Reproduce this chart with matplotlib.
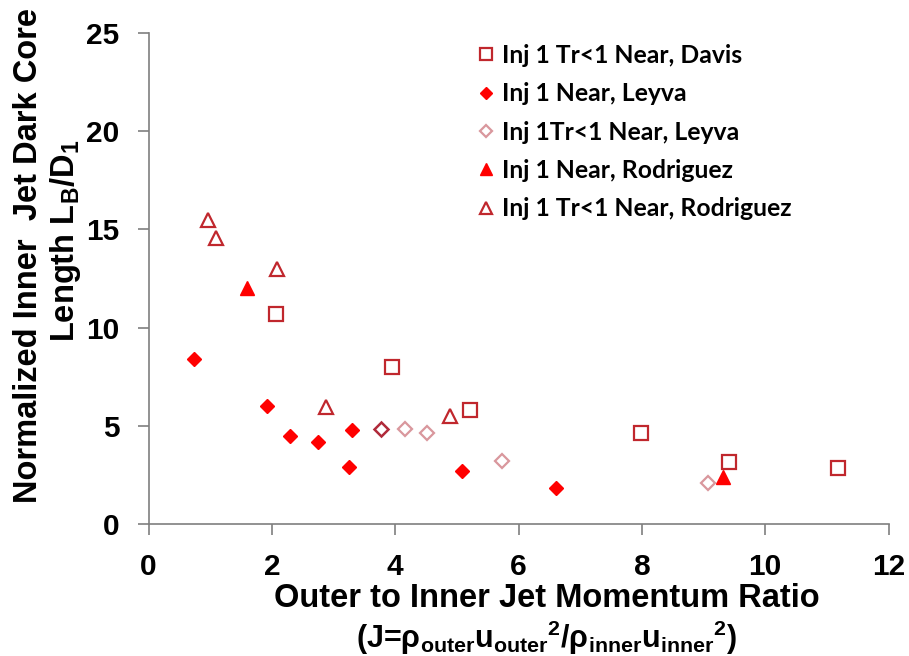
import matplotlib
matplotlib.use("Agg")
import matplotlib.pyplot as plt

# Inj 1 Tr<1 Near, Davis (open squares)
davis_tr_x = [2.06, 3.94, 5.22, 7.98, 9.42, 11.18]
davis_tr_y = [10.7, 7.99, 5.82, 4.63, 3.17, 2.88]

# Inj 1 Near, Leyva (filled diamonds)
leyva_x = [0.73, 1.92, 2.30, 2.75, 3.30, 3.25, 5.08, 6.60]
leyva_y = [8.40, 6.00, 4.48, 4.17, 4.80, 2.93, 2.71, 1.85]

# Inj 1Tr<1 Near, Leyva (open diamonds)
leyva_tr_x = [4.16, 4.51, 5.73, 9.07]
leyva_tr_y = [4.87, 4.66, 3.22, 2.09]
# one darker open diamond (overlapping points in the original)
leyva_tr_dark_x = [3.77]
leyva_tr_dark_y = [4.83]

# Inj 1 Near, Rodriguez (filled triangles)
rodriguez_x = [1.59, 9.32]
rodriguez_y = [12.0, 2.39]

# Inj 1 Tr<1 Near, Rodriguez (open triangles)
rodriguez_tr_x = [0.97, 1.09, 2.08, 2.88, 4.89]
rodriguez_tr_y = [15.49, 14.55, 12.98, 5.97, 5.51]

x_ticks = [0, 2, 4, 6, 8, 10, 12]
y_ticks = [0, 5, 10, 15, 20, 25]

RED = "#ff0000"
DARK_RED = "#c0272d"
PINK = "#d9979d"
GREY = "#7f7f7f"

plt.rcParams["font.family"] = "Liberation Sans"
plt.rcParams["font.weight"] = "bold"
plt.rcParams["mathtext.fontset"] = "custom"
plt.rcParams["mathtext.rm"] = "Liberation Sans:bold"
plt.rcParams["mathtext.it"] = "Liberation Sans:bold"
plt.rcParams["mathtext.bf"] = "Liberation Sans:bold"
plt.rcParams["mathtext.default"] = "rm"

fig = plt.figure(figsize=(9.09, 6.56), dpi=100)
ax = fig.add_axes([0.1634, 0.2008, 0.8141, 0.7492])

ax.plot(davis_tr_x, davis_tr_y, ls="none", marker="s", ms=10, mfc="white",
        mec=DARK_RED, mew=1.6, label="Inj 1 Tr<1 Near, Davis")
ax.plot(leyva_x, leyva_y, ls="none", marker="D", ms=7, mfc=RED,
        mec=RED, mew=1, label="Inj 1 Near, Leyva")
ax.plot(leyva_tr_x, leyva_tr_y, ls="none", marker="D", ms=7, mfc="white",
        mec=PINK, mew=1.6, label="Inj 1Tr<1 Near, Leyva")
ax.plot(leyva_tr_dark_x, leyva_tr_dark_y, ls="none", marker="D", ms=7,
        mfc="white", mec="#b02a3a", mew=1.8)
ax.plot(rodriguez_x, rodriguez_y, ls="none", marker="^", ms=10, mfc=RED,
        mec=RED, mew=1, label="Inj 1 Near, Rodriguez")
ax.plot(rodriguez_tr_x, rodriguez_tr_y, ls="none", marker="^", ms=10,
        mfc="white", mec=DARK_RED, mew=1.6, label="Inj 1 Tr<1 Near, Rodriguez")

ax.set_xlim(0, 12)
ax.set_ylim(0, 25)
ax.set_xticks(x_ticks)
ax.set_yticks(y_ticks)
for side in ("top", "right"):
    ax.spines[side].set_visible(False)
for side in ("left", "bottom"):
    ax.spines[side].set_color(GREY)
    ax.spines[side].set_linewidth(1.2)
ax.tick_params(direction="out", length=8, width=1.2, color=GREY,
               labelsize=21.5, pad=13)
for lbl in ax.get_xticklabels() + ax.get_yticklabels():
    lbl.set_fontweight("bold")

fig.text(0.602, 0.0747, "Outer to Inner Jet Momentum Ratio", ha="center",
         va="baseline", fontsize=23.5, fontweight="bold")
fig.text(0.601, 0.012,
         r"(J=$\rho_{outer}u_{outer}{}^{2}/\rho_{inner}u_{inner}{}^{2}$)",
         ha="center", va="baseline", fontsize=22, fontweight="bold")
fig.text(0.031, 0.61, "Normalized Inner  Jet Dark Core", rotation=90,
         ha="center", va="center", fontsize=23.5, fontweight="bold")
fig.text(0.072, 0.633, r"Length L$_{B}$/D$_{1}$", rotation=90,
         ha="center", va="center", fontsize=23.5, fontweight="bold")

leg = ax.legend(loc="upper left", bbox_to_anchor=(0.443, 0.977), frameon=False,
                prop={"family": "Lato", "weight": "bold", "size": 17.8},
                markerscale=0.85, handlelength=0.8, handletextpad=0.25,
                labelspacing=0.62, borderaxespad=0, borderpad=0)

fig.savefig("out.png", dpi=100)
